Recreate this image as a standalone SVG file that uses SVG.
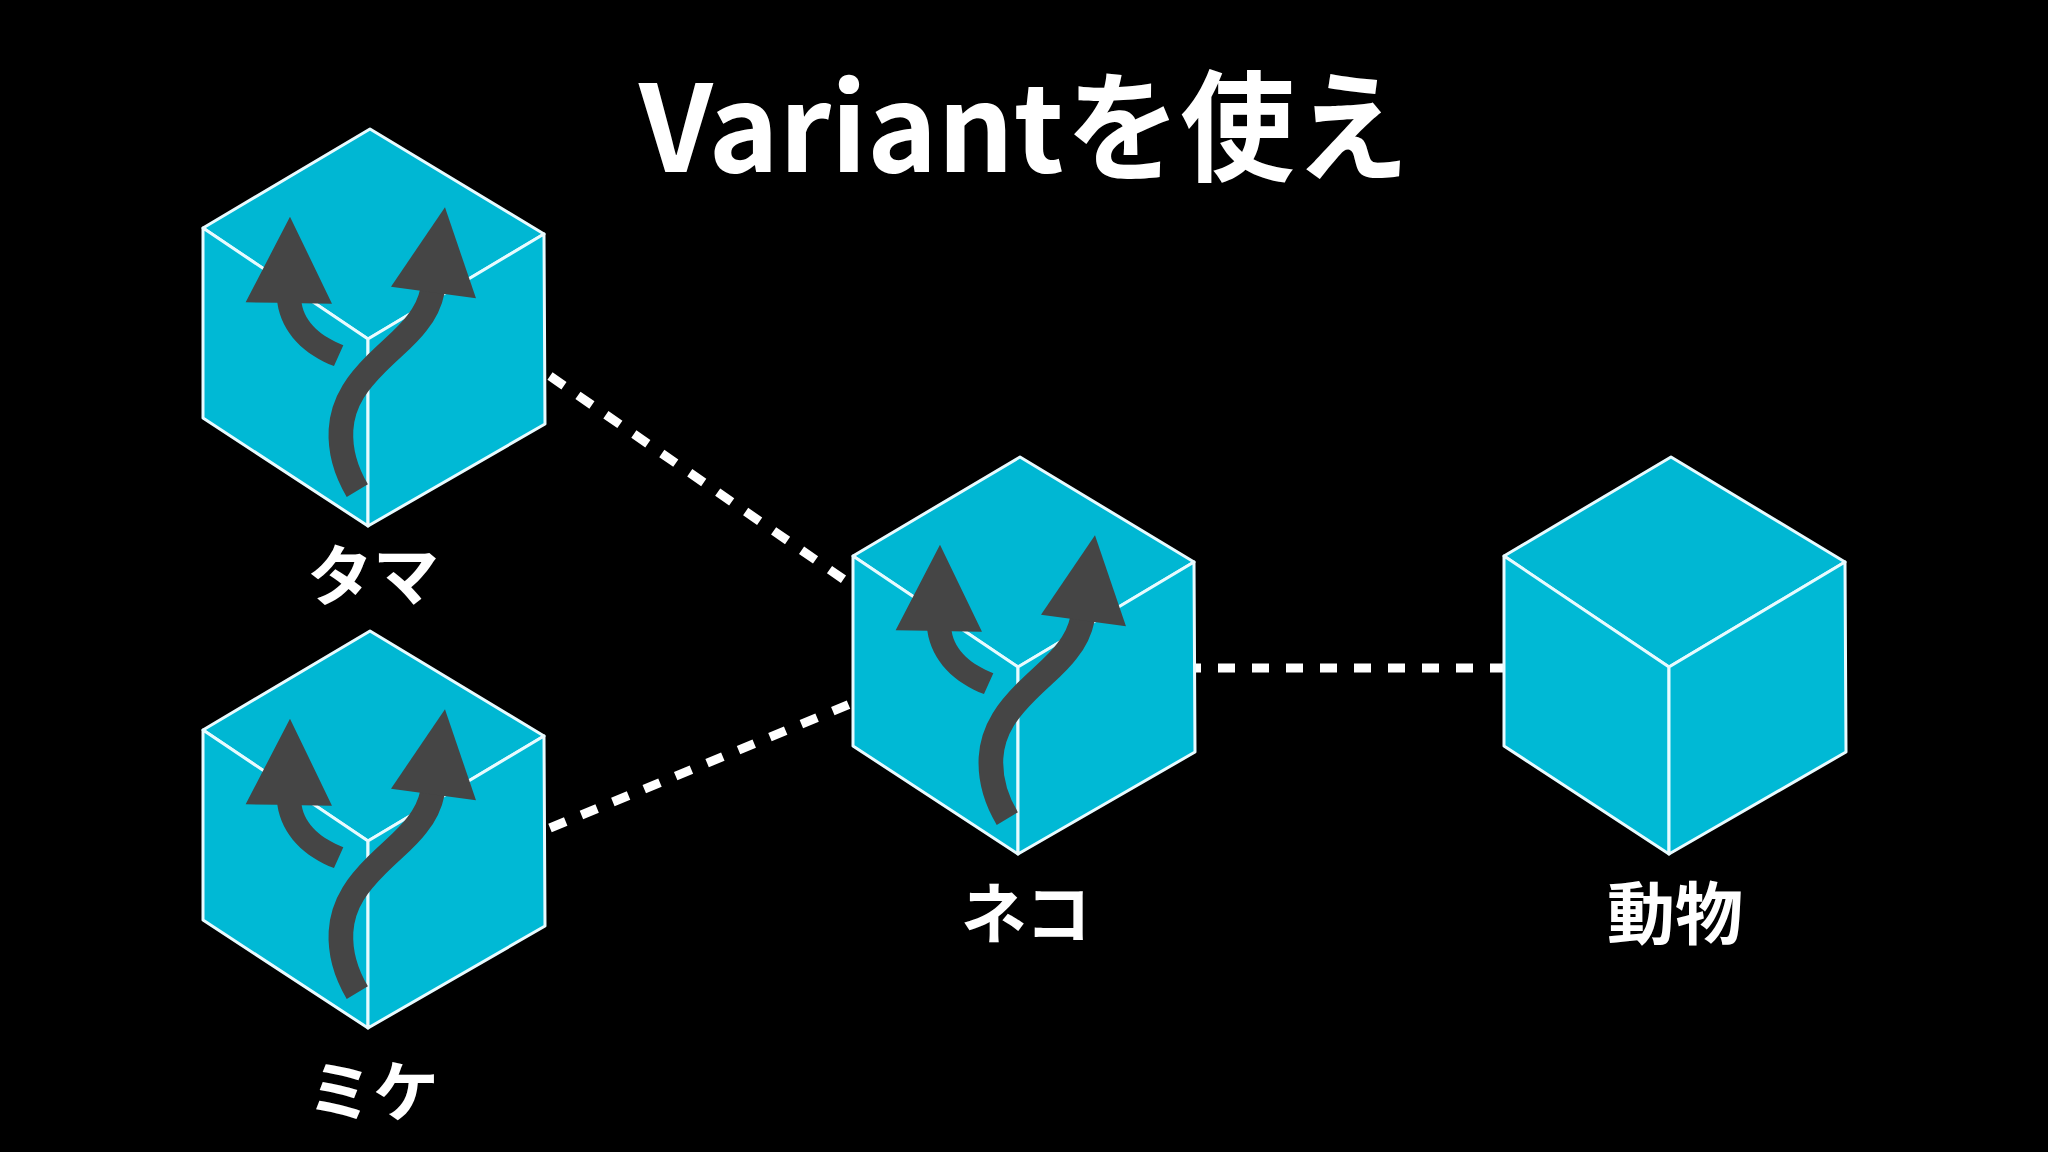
<svg xmlns="http://www.w3.org/2000/svg" width="2048" height="1152" viewBox="0 0 2048 1152">
<style>
.face{fill:#00b9d5;stroke:#e8fbff;stroke-width:3;stroke-linejoin:round}
.top{fill:#00b7d3}
.arrow{fill:#454545}
.stem{fill:none;stroke:#454545;stroke-width:74}
.dash{fill:none;stroke:#fff;stroke-width:9;stroke-dasharray:17 17}
text{font-family:"Noto Sans CJK JP","Noto Sans",sans-serif;font-weight:700;fill:#fff}
.label{font-size:66px;text-anchor:middle}
</style>
<defs>
<g id="cube">
<path class="face top" d="M370 129L544 234L368 339L203 228Z"/>
<path class="face" d="M203 228L368 339L368 526L203 418Z"/>
<path class="face" d="M544 234L368 339L368 526L545 424Z"/>
</g>
<g id="branch" transform="translate(180 110) scale(.3333)">
<path class="arrow" d="M330 320L197 577L292 578C305 670 375 735 462 768L490 706C425 680 375 640 365 580L456 581Z"/>
<path class="stem" d="M532 1142C495 1080 480 1020 483 960C488 870 540 810 590 760C640 710 680 680 710 640C735 610 750 580 758 540"/>
<path class="arrow" d="M795 292L633 530L888 565Z"/>
</g>
</defs>
<rect width="2048" height="1152" fill="#000"/>
<text id="title" y="172" font-size="120"><tspan x="639" textLength="425" lengthAdjust="spacingAndGlyphs">Variant</tspan><tspan x="1066" textLength="343" lengthAdjust="spacingAndGlyphs">を使え</tspan></text>
<g id="connectors">
<path class="dash" d="M550 376L846 581"/>
<path class="dash" d="M550 828L850 704"/>
<path class="dash" d="M1195 668H1504" stroke-dashoffset="11"/>
</g>
<g id="tama"><use href="#cube"/><use href="#branch"/><text class="label" x="373" y="600">タマ</text></g>
<g id="mike"><use href="#cube" y="502"/><use href="#branch" y="502"/><text class="label" x="373" y="1116">ミケ</text></g>
<g id="neko"><use href="#cube" x="650" y="328"/><use href="#branch" x="650" y="328"/><text class="label" x="1026" y="938">ネコ</text></g>
<g id="doubutsu"><use href="#cube" x="1301" y="328"/><text class="label" x="1675" y="939" style="font-size:68px">動物</text></g>
</svg>
